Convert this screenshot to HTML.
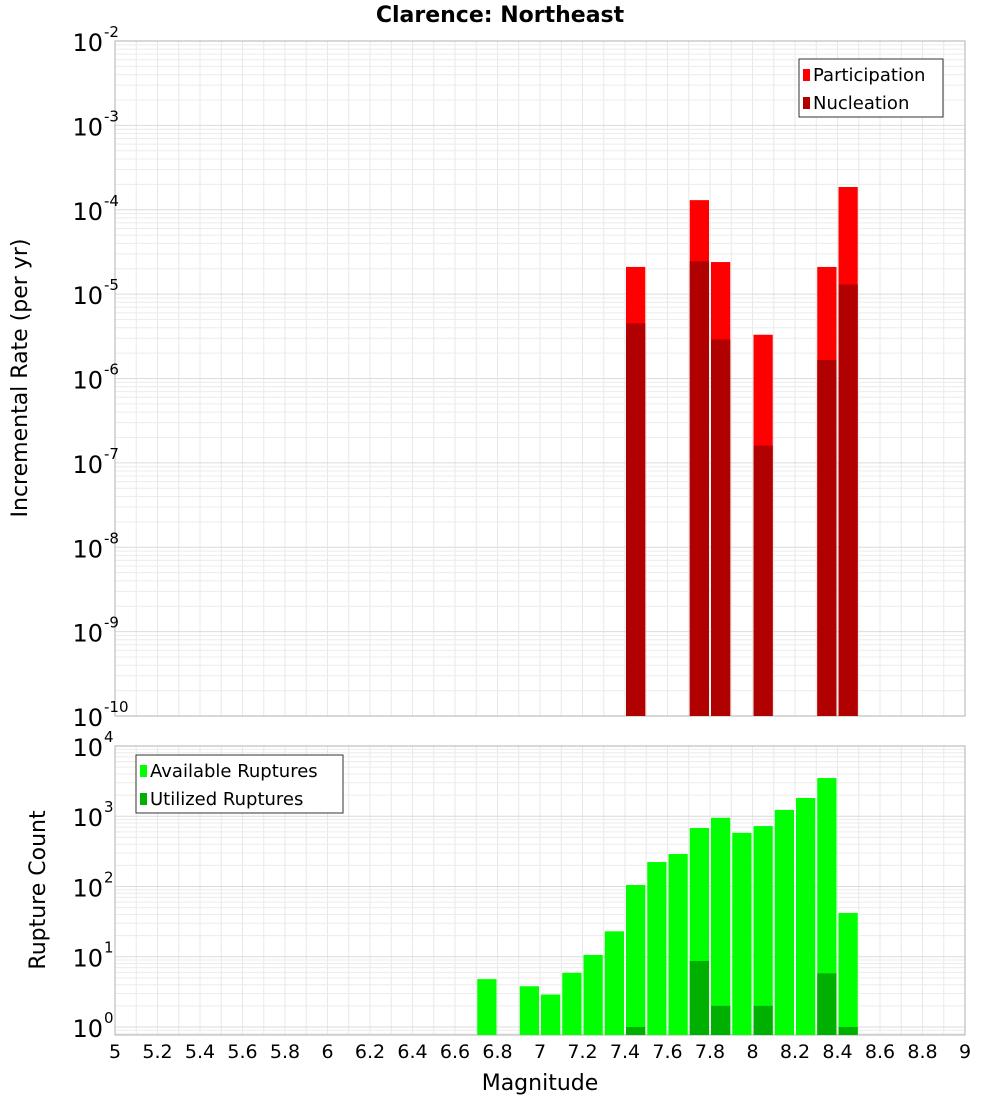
<!DOCTYPE html>
<html><head><meta charset="utf-8"><style>
body{margin:0;background:#fff;font-family:"Liberation Sans","DejaVu Sans",sans-serif}
</style></head><body>
<svg id="c" width="1000" height="1100" xmlns="http://www.w3.org/2000/svg" style="font-family:'DejaVu Sans','Liberation Sans',sans-serif">
<text x="500" y="22" text-anchor="middle" font-weight="bold" font-size="22">Clarence: Northeast</text>
<g id="top"></g><g id="bot"></g>
</svg>
<script>
const mags = [7.45,7.75,7.85,8.05,8.35,8.45];
const participation = [2.1e-5,1.3e-4,2.4e-5,3.3e-6,2.1e-5,1.86e-4];
const nucleation = [4.5e-6,2.45e-5,2.9e-6,1.6e-7,1.66e-6,1.3e-5];
const countMags = [6.75,6.95,7.05,7.15,7.25,7.35,7.45,7.55,7.65,7.75,7.85,7.95,8.05,8.15,8.25,8.35,8.45];
const available = [4.8,3.8,2.9,5.9,10.6,23,105,223,290,680,950,580,725,1230,1820,3500,42];
const utilMags = [7.45,7.75,7.85,8.05,8.35,8.45];
const utilized = [1,8.7,2,2,5.8,1];
const xTicks = ["5","5.2","5.4","5.6","5.8","6","6.2","6.4","6.6","6.8","7","7.2","7.4","7.6","7.8","8","8.2","8.4","8.6","8.8","9"];

const NS="http://www.w3.org/2000/svg";
const svg=document.getElementById('c');
function el(p,t,a){const e=document.createElementNS(NS,t);for(const k in a)e.setAttribute(k,a[k]);p.appendChild(e);return e;}
const X0=115,X1=965;
const x=m=>X0+(m-5)/4*(X1-X0);
function panel(g,top,bottom,lmin,lmax){
  const y=v=>bottom-(Math.log10(v)-lmin)/(lmax-lmin)*(bottom-top);
  return y;
}
const T={g:document.getElementById('top'),top:41,bottom:716,lmin:-10,lmax:-2};
const B={g:document.getElementById('bot'),top:746,bottom:1035,lmin:-0.114,lmax:4};
[T,B].forEach(P=>{
  P.y=panel(P.g,P.top,P.bottom,P.lmin,P.lmax);
  const grid=el(P.g,'g',{});
  
  
  for(let m=5;m<=9.001;m+=0.1){const xx=x(m);el(grid,'line',{x1:xx,x2:xx,y1:P.top,y2:P.bottom,stroke:'#e8e8e8','stroke-width':1});}
  for(let d=Math.floor(P.lmin);d<P.lmax;d++){for(let k=1;k<10;k++){const v=Math.pow(10,d)*k;const lv=Math.log10(v);if(lv<P.lmin||lv>P.lmax)continue;const yy=P.y(v);el(grid,'line',{x1:X0,x2:X1,y1:yy,y2:yy,stroke:k==1?'#dcdcdc':'#ececec','stroke-width':1});}}
  const fr=el(P.g,'rect',{x:X0,y:P.top,width:X1-X0,height:P.bottom-P.top,fill:'none',stroke:'#b0b0b0'});
  
  
});
function bar(P,m,v,color,name){
  const r=el(P.g,'rect',{x:x(m-0.05)+1,y:P.y(v),width:x(m+0.05)-x(m-0.05)-2,height:P.bottom-P.y(v),fill:color});
  
  
}
mags.forEach((m,i)=>bar(T,m,participation[i],'#ff0000','participation-bar'));
mags.forEach((m,i)=>bar(T,m,nucleation[i],'#b00000','nucleation-bar'));
countMags.forEach((m,i)=>bar(B,m,available[i],'#00ff00','available-bar'));
utilMags.forEach((m,i)=>bar(B,m,utilized[i],'#00b000','utilized-bar'));
// y tick labels
function ylabels(P,exps,name){
  exps.forEach(e=>{const yy=P.y(Math.pow(10,e));
    const t=el(svg,'text',{x:103,y:yy+10,'text-anchor':'end','font-size':24});
    
    
    t.textContent='10';
    const s=el(svg,'text',{x:104,y:yy-4,'font-size':15});
    
    
    s.textContent=String(e);});
}
ylabels(T,[-2,-3,-4,-5,-6,-7,-8,-9,-10],'top-y-tick');
ylabels(B,[4,3,2,1,0],'bottom-y-tick');
xTicks.forEach(s=>{const t=el(svg,'text',{x:x(parseFloat(s)),y:1058,'text-anchor':'middle','font-size':19});
  
  
  t.textContent=s;});
function txt(a,s,name){const t=el(svg,'text',a);t.textContent=s;return t;}
txt({x:540,y:1090,'text-anchor':'middle','font-size':22},'Magnitude','x-axis-title');
txt({x:0,y:0,'text-anchor':'middle','font-size':22,transform:'translate(27,378) rotate(-90)'},'Incremental Rate (per yr)','top-y-axis-title');
txt({x:0,y:0,'text-anchor':'middle','font-size':22,transform:'translate(45,890) rotate(-90)'},'Rupture Count','bottom-y-axis-title');
function legend(bx,by,w,items,name){
  const g=el(svg,'g',{});
  el(g,'rect',{x:bx,y:by,width:w,height:58,fill:'#fff',stroke:'#333'});
  items.forEach((it,i)=>{const yy=by+19+i*28;
    const r=el(g,'rect',{x:bx+4,y:yy-9,width:7,height:12,fill:it[1]});
    
    const t=el(g,'text',{x:bx+14,y:yy+3,'font-size':18});
    
    t.textContent=it[0];});
}
legend(799,59,144,[['Participation','#ff0000'],['Nucleation','#b00000']],'top-legend');
legend(136,755,207,[['Available Ruptures','#00ff00'],['Utilized Ruptures','#00b000']],'bottom-legend');
</script>
</body></html>
